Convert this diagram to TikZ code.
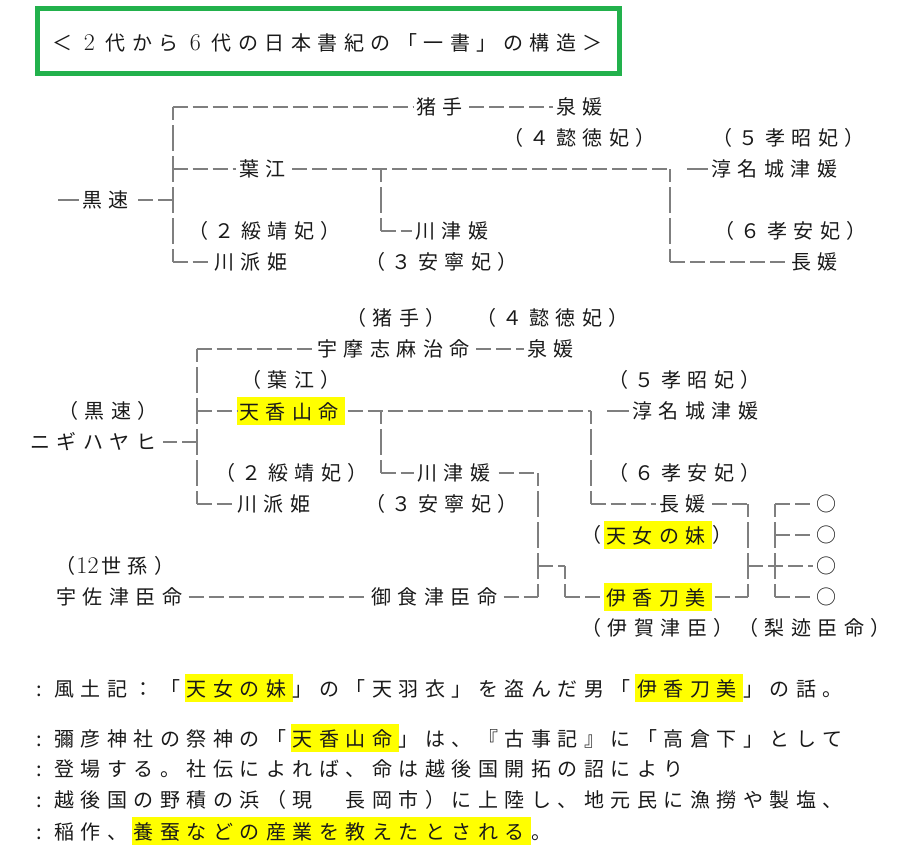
\documentclass[tikz,border=0pt]{standalone}
\usepackage{fontspec}
\newfontfamily\jp[LetterSpace=32.5]{Noto Sans CJK JP}
\newcommand\jpf{\jp\fontsize{15pt}{18pt}\selectfont}
\definecolor{ink}{HTML}{1A1A1A}
\definecolor{lg}{HTML}{7F7F7F}
\definecolor{tgreen}{HTML}{22B14C}
\definecolor{hly}{HTML}{FFFF00}
\newlength\lsp \setlength\lsp{4.875pt}
% highlight box used at the start of a node
\newcommand\hlb[1]{{\setlength{\fboxsep}{0pt}\colorbox{hly}{\rule[-0.3em]{0pt}{1.4em}\hspace{1.5pt}#1\hspace{\lsp}}}}
% highlight box used inside a running line
\newcommand\hlt[1]{\hspace{\lsp}\hspace{-1.5pt}{\setlength{\fboxsep}{0pt}\colorbox{hly}{\rule[-0.3em]{0pt}{1.4em}\hspace{1.5pt}#1\hspace{\lsp}}}}
\newcommand\dg[1]{\hspace{\lsp}\makebox[15pt]{\rmfamily\fontsize{18pt}{18pt}\selectfont #1}\hspace{\lsp}}
\newcommand\cl{\makebox[13.125pt][l]{:}}
\tikzset{
  txt/.style={anchor=west, inner sep=0pt, text=ink, font=\jpf},
  hl/.style={draw=lg, line width=1.5pt, dash pattern=on 11.25pt off 3.75pt},
  vl/.style={draw=lg, line width=1.5pt, dash pattern=on 19.5pt off 3.75pt, dash phase=9.75pt},
  sl/.style={draw=lg, line width=1.5pt},
  toT/.style={shorten >=2.25pt},
  toE/.style={shorten >=4.5pt},
  fromE/.style={shorten <=4.5pt},
  titlebox/.style={draw=tgreen, line width=3.75pt, minimum width=436.5pt, minimum height=48.75pt, inner sep=0pt},
}
\begin{document}
\begin{tikzpicture}[x=0.75pt,y=-0.75pt]
\useasboundingbox[fill=white] (0,0) rectangle (909,851);
% title
\node[titlebox] (tbox) at (328.5,41) {};
\node[txt] (title) at (52.5,43) {＜\dg{2}代から\dg{6}代の日本書紀の「一書」の構造＞};
% ---------- upper chart ----------
\node[txt] (kuro) at (82,200) {黒速};
\node[txt] (inote) at (416,107) {猪手};
\node[txt] (sen1) at (556,107) {泉媛};
\node[txt] (itoku1) at (503,138) {（４懿徳妃）};
\node[txt] (kosho1) at (712,138) {（５孝昭妃）};
\node[txt] (hae) at (239,169) {葉江};
\node[txt] (nuna1) at (711,169) {淳名城津媛};
\node[txt] (suizei1) at (188,231) {（２綏靖妃）};
\node[txt] (kawatsu1) at (415,231) {川津媛};
\node[txt] (koan1) at (714,231) {（６孝安妃）};
\node[txt] (kawamata1) at (214,262) {川派姫};
\node[txt] (annei1) at (365,262) {（３安寧妃）};
\node[txt] (naga1) at (791,262) {長媛};
\coordinate (a1) at (172.7,107);
\coordinate (a2) at (172.7,169);
\coordinate (a3) at (172.7,200);
\coordinate (a4) at (172.7,262);
\coordinate (b1) at (380.7,169);
\coordinate (b2) at (380.7,231);
\coordinate (c1) at (670,169);
\coordinate (c2) at (670,262);
\coordinate (d0) at (58,200);
\coordinate (d1) at (687,169);
\draw[vl] (a1) -- (a4);
\draw[hl,toT] (a1) -- (inote.west);
\draw[hl,toT] (a2) -- (hae.west);
\draw[hl,toE] (a3) -- (kuro.east);
\draw[hl,toT] (a4) -- (kawamata1.west);
\draw[hl,fromE,toT] (inote.east) -- (sen1.west);
\draw[hl,fromE] (hae.east) -- (c1);
\draw[vl] (c1) -- (c2);
\draw[hl,toT] (c2) -- (naga1.west);
\draw[vl] (b1) -- (b2);
\draw[hl,toT] (b2) -- (kawatsu1.west);
\draw[sl,toT] (d1) -- (nuna1.west);
\draw[sl,toT] (d0) -- (kuro.west);
% ---------- lower chart ----------
\node[txt] (inote2) at (346,318) {（猪手）};
\node[txt] (itoku2) at (476,318) {（４懿徳妃）};
\node[txt] (umashi) at (317,349) {宇摩志麻治命};
\node[txt] (sen2) at (527,349) {泉媛};
\node[txt] (hae2) at (241,380) {（葉江）};
\node[txt] (kosho2) at (608,380) {（５孝昭妃）};
\node[txt] (kuro2) at (58,411) {（黒速）};
\node[txt] (amaka) at (237,411) {\hlb{天香山命}};
\node[txt] (nuna2) at (632,411) {淳名城津媛};
\node[txt] (nigi) at (30,442) {ニギハヤヒ};
\node[txt] (suizei2) at (215,473) {（２綏靖妃）};
\node[txt] (kawatsu2) at (417,473) {川津媛};
\node[txt] (koan2) at (608,473) {（６孝安妃）};
\node[txt] (kawamata2) at (237,504) {川派姫};
\node[txt] (annei2) at (365,504) {（３安寧妃）};
\node[txt] (naga2) at (659,504) {長媛};
\node[txt] (lp1) at (581,535) {（};
\node[txt] (tennyo) at (604,535) {\hlb{天女の妹}};
\node[txt] (rp1) at (tennyo.east) {）};
\node[txt] (lp2) at (55,566) {（};
\node[inner sep=0pt, text=ink, font=\rmfamily\fontsize{18pt}{18pt}\selectfont] (twelve) at (87.5,566) {12};
\node[txt] (sesson) at (101,566) {世孫）};
\node[txt] (usa) at (56,597) {宇佐津臣命};
\node[txt] (mike) at (371,597) {御食津臣命};
\node[txt] (ikato) at (604,597) {\hlb{伊香刀美}};
\node[txt] (ikaga) at (581,628) {（伊賀津臣）};
\node[txt] (nashi) at (738,628) {（梨迹臣命）};
\node[txt] (o1) at (816,504) {○};
\node[txt] (o2) at (816,535) {○};
\node[txt] (o3) at (816,566) {○};
\node[txt] (o4) at (816,597) {○};
\coordinate (p1) at (196.7,349);
\coordinate (p2) at (196.7,411);
\coordinate (p3) at (196.7,442);
\coordinate (p4) at (196.7,504);
\coordinate (q1) at (380.7,411);
\coordinate (q2) at (380.7,473);
\coordinate (r1) at (590.7,411);
\coordinate (r2) at (590.7,504);
\coordinate (s1) at (538.3,473);
\coordinate (s2) at (538.3,566);
\coordinate (s3) at (538.3,597);
\coordinate (t1) at (565,566);
\coordinate (t2) at (565,597);
\coordinate (u1) at (748.3,504);
\coordinate (u2) at (748.3,566);
\coordinate (u3) at (748.3,597);
\coordinate (w1) at (775,504);
\coordinate (w2) at (775,535);
\coordinate (w4) at (775,597);
\coordinate (d2) at (607,411);
\draw[vl] (p1) -- (p4);
\draw[hl,toT] (p1) -- (umashi.west);
\draw[hl] (p2) -- (amaka.west);
\draw[hl,toE] (p3) -- (nigi.east);
\draw[hl,toT] (p4) -- (kawamata2.west);
\draw[hl,fromE,toT] (umashi.east) -- (sen2.west);
\draw[hl,shorten <=1.5pt] (amaka.east) -- (r1);
\draw[vl] (q1) -- (q2);
\draw[hl,toT] (q2) -- (kawatsu2.west);
\draw[vl] (r1) -- (r2);
\draw[hl,toT] (r2) -- (naga2.west);
\draw[sl,toT] (d2) -- (nuna2.west);
\draw[hl,shorten <=6pt] (kawatsu2.east) -- (s1);
\draw[vl] (s1) -- (s3);
\draw[hl,fromE] (mike.east) -- (s3);
\draw[hl,fromE,toT] (usa.east) -- (mike.west);
\draw[hl] (s2) -- (t1);
\draw[vl] (t1) -- (t2);
\draw[hl] (t2) -- (ikato.west);
\draw[hl,fromE] (naga2.east) -- (u1);
\draw[vl] (u1) -- (u3);
\draw[hl,shorten <=1.5pt] (ikato.east) -- (u3);
\draw[hl,toT] (u2) -- (o3.west);
\draw[vl] (w1) -- (w4);
\draw[hl,toT] (w1) -- (o1.west);
\draw[hl,toT] (w2) -- (o2.west);
\draw[hl,toT] (w4) -- (o4.west);
% ---------- notes ----------
\node[txt] (n1) at (36.5,688) {\cl 風土記：「\hlt{天女の妹}」の「天羽衣」を盗んだ男「\hlt{伊香刀美}」の話。};
\node[txt] (n2) at (36.5,738) {\cl 彌彦神社の祭神の「\hlt{天香山命}」は、『古事記』に「高倉下」として};
\node[txt] (n3) at (36.5,769) {\cl 登場する。社伝によれば、命は越後国開拓の詔により};
\node[txt] (n4) at (36.5,800) {\cl 越後国の野積の浜（現　長岡市）に上陸し、地元民に漁撈や製塩、};
\node[txt] (n5) at (36.5,831) {\cl 稲作、\hlt{養蚕などの産業を教えたとされる}。};
\end{tikzpicture}
\end{document}
